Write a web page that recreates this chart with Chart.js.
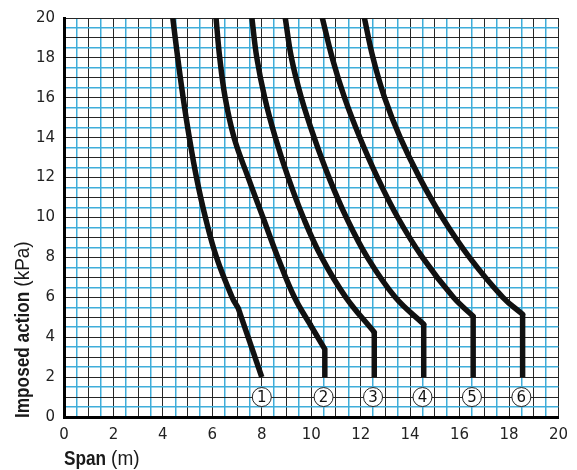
<!DOCTYPE html>
<html>
<head>
<meta charset="utf-8">
<script src="https://cdn.jsdelivr.net/npm/chart.js@4.4.1/dist/chart.umd.min.js"></script>
<style>
  html, body { margin: 0; padding: 0; background: #fff; }
  #wrap { width: 577px; height: 470px; }
</style>
</head>
<body>
<div id="wrap"><canvas id="c" width="577" height="470"></canvas></div>
<script>
const loadLevels = [20, 18, 16, 14, 12, 10, 8, 6];
// span (m) of each curve at those levels
const span1 = [4.4, 4.6, 4.82, 5.07, 5.36, 5.72, 6.17, 6.8];
const span2 = [6.15, 6.3, 6.52, 6.88, 7.45, 8.05, 8.65, 9.32];
const span3 = [7.6, 7.8, 8.12, 8.55, 9.07, 9.68, 10.42, 11.4];
const span4 = [8.95, 9.2, 9.6, 10.12, 10.72, 11.42, 12.27, 13.4];
const span5 = [10.45, 10.85, 11.35, 11.97, 12.68, 13.5, 14.5, 15.75];
const span6 = [12.15, 12.5, 12.97, 13.6, 14.38, 15.3, 16.4, 17.75];
// straight end pieces [span, load]
const tail1 = [[7.05, 5.45], [8.0, 2]];
const tail2 = [[9.95, 4.65], [10.55, 3.4], [10.55, 2]];
const tail3 = [[12.55, 4.25], [12.55, 2]];
const tail4 = [[14.55, 4.65], [14.55, 2]];
const tail5 = [[16.55, 5.05], [16.55, 2]];
const tail6 = [[18.55, 5.15], [18.55, 2]];
// numbered markers
const markerLabels = ["1", "2", "3", "4", "5", "6"];
const markerSpan = [8, 10.5, 12.5, 14.5, 16.5, 18.5];
const markerLoad = [1, 1, 1, 1, 1, 1];

const spans = [span1, span2, span3, span4, span5, span6];
const tails = [tail1, tail2, tail3, tail4, tail5, tail6];

const INK = "#111";
const GRID_DARK = "#262626";
const GRID_BLUE = "#3fadda";
const TICK_FONT = { family: "'DejaVu Sans', sans-serif", size: 15 };
const BOLD_FONT = "bold 21px 'Liberation Sans', Arial, sans-serif";
const REG_FONT = "20px 'Liberation Sans', Arial, sans-serif";
const NARROW = 0.82;

const datasets = [];
spans.forEach((s, i) => {
  const tail = tails[i];
  const pts = loadLevels.map((y, j) => ({ x: s[j], y }));
  pts.push({ x: tail[0][0], y: tail[0][1] });
  datasets.push({
    data: pts,
    showLine: true,
    tension: 0.4,
    borderColor: INK,
    borderWidth: 5.5,
    borderCapStyle: "round",
    pointRadius: 0,
    clip: 0,
  });
  datasets.push({
    data: tail.map((p) => ({ x: p[0], y: p[1] })),
    showLine: true,
    tension: 0,
    borderColor: INK,
    borderWidth: 5.5,
    borderCapStyle: "butt",
    borderJoinStyle: "miter",
    pointRadius: 0,
    clip: 0,
  });
});
datasets.push({
  data: markerSpan.map((x, i) => ({ x, y: markerLoad[i] })),
  showLine: false,
  pointRadius: 9.5,
  pointHoverRadius: 9.5,
  pointBackgroundColor: "#fff",
  pointBorderColor: "#222",
  pointBorderWidth: 1,
});

const isWhole = (ctx) => ctx.tick && ctx.tick.value % 1 === 0;
const gridOpts = {
  color: (ctx) => (isWhole(ctx) ? GRID_DARK : GRID_BLUE),
  lineWidth: (ctx) => (isWhole(ctx) ? 1 : 1.5),
  drawTicks: false,
};

// draws "bold part" + "(unit)" with the bold part squeezed like a condensed face
function mixedTitle(ctx, x, y, bold, unit) {
  ctx.save();
  ctx.translate(x, y);
  ctx.scale(NARROW, 1);
  ctx.font = BOLD_FONT;
  ctx.fillText(bold, 0, 0);
  const w = ctx.measureText(bold).width * NARROW;
  ctx.restore();
  ctx.save();
  ctx.translate(x + w + 5, y);
  ctx.scale(0.95, 1);
  ctx.font = REG_FONT;
  ctx.fillText(unit, 0, 0);
  ctx.restore();
}

const decorations = {
  id: "decorations",
  afterDatasetsDraw(chart) {
    const { ctx, scales } = chart;
    ctx.save();
    ctx.fillStyle = "#111";
    ctx.font = "15px 'DejaVu Sans', sans-serif";
    ctx.textAlign = "center";
    ctx.textBaseline = "middle";
    markerLabels.forEach((t, i) => {
      ctx.fillText(t, scales.x.getPixelForValue(markerSpan[i]), scales.y.getPixelForValue(markerLoad[i]) + 1);
    });
    ctx.restore();
  },
  afterDraw(chart) {
    const { ctx, chartArea } = chart;
    ctx.save();
    ctx.fillStyle = "#1a1a1a";
    ctx.textBaseline = "alphabetic";
    ctx.textAlign = "left";
    mixedTitle(ctx, chartArea.left, 465, "Span", "(m)");
    ctx.translate(28.5, chartArea.bottom + 1);
    ctx.rotate(-Math.PI / 2);
    mixedTitle(ctx, 0, 0, "Imposed action", "(kPa)");
    ctx.restore();
  },
};

new Chart(document.getElementById("c"), {
  type: "scatter",
  data: { datasets },
  plugins: [decorations],
  options: {
    responsive: false,
    animation: false,
    events: [],
    layout: { padding: { top: 14, right: 18, left: 0, bottom: 0 } },
    plugins: { legend: { display: false }, tooltip: { enabled: false } },
    scales: {
      x: {
        type: "linear",
        min: 0,
        max: 20,
        afterFit: (s) => { s.height = 53; },
        ticks: {
          stepSize: 0.5,
          maxTicksLimit: 100,
          autoSkip: false,
          maxRotation: 0,
          padding: 9,
          color: "#222",
          font: TICK_FONT,
          callback: (v) => (v % 2 === 0 ? v : ""),
        },
        grid: gridOpts,
        border: { color: "#000", width: 3 },
      },
      y: {
        type: "linear",
        min: 0,
        max: 20,
        afterFit: (s) => { s.width = 64; },
        ticks: {
          stepSize: 0.5,
          maxTicksLimit: 100,
          autoSkip: false,
          padding: 9,
          color: "#222",
          font: TICK_FONT,
          callback: (v) => (v % 2 === 0 ? v : ""),
        },
        grid: gridOpts,
        border: { color: "#000", width: 3 },
      },
    },
  },
});
</script>
</body>
</html>
